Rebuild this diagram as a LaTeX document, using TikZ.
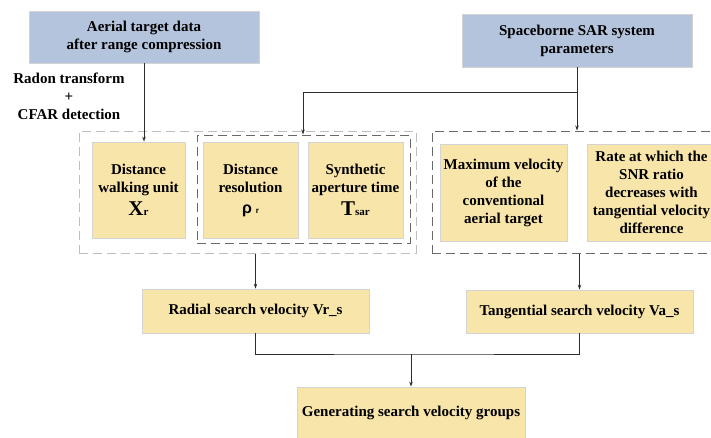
\documentclass[tikz,border=0pt]{standalone}
\usepackage{fontspec}
\setmainfont{Liberation Serif}
\newfontfamily\rhofont{Liberation Sans}
\usepackage{tikz}
\usetikzlibrary{arrows.meta}

\definecolor{bluebox}{RGB}{181,196,221}
\definecolor{yellowbox}{RGB}{248,229,170}
\definecolor{boxline}{RGB}{212,212,212}
\definecolor{lightdash}{RGB}{190,190,190}
\definecolor{darkdash}{RGB}{105,105,105}
\definecolor{linkline}{RGB}{45,45,45}

\tikzset{
  txt/.style={font=\fontsize{15}{18}\selectfont\bfseries, align=center, text=black},
  inbox/.style={txt, fill=bluebox, draw=boxline, line width=0.8pt, inner sep=0pt},
  parbox/.style={txt, fill=yellowbox, draw=boxline, line width=0.8pt, inner sep=0pt},
  grouplight/.style={draw=lightdash, line width=1pt, dash pattern=on 9pt off 5pt, inner sep=0pt},
  groupdark/.style={draw=darkdash, line width=1pt, dash pattern=on 9pt off 5pt, inner sep=0pt},
  link/.style={draw=linkline, line width=0.8pt},
}

\begin{document}
\begin{tikzpicture}[x=1pt,y=-1pt,>={Stealth[length=5pt,width=3.5pt]}]
   \useasboundingbox (0,0) rectangle (711,437);
   \clip (0,0) rectangle (711,437);

   % inputs
   \node[inbox, minimum width=230pt, minimum height=52pt] (data) at (144,37)
        {Aerial target data\\after range compression};
   \node[inbox, minimum width=230pt, minimum height=53pt] (sar) at (577,40.5)
        {Spaceborne SAR system\\parameters};
   \node[txt] (radon) at (69,96) {Radon transform\\+\\CFAR detection};

   % dashed groups
   \node[grouplight, minimum width=337pt, minimum height=122pt] (leftgrp) at (247.5,192) {};
   \node[groupdark, minimum width=213pt, minimum height=108pt] (midgrp) at (303.5,189) {};
   \node[groupdark, minimum width=288pt, minimum height=122pt] (rightgrp) at (576,192) {};

   % parameters
   \node[parbox, minimum width=93pt, minimum height=96pt] (walk) at (138.5,190)
        {Distance\\walking unit\\[5pt]{\fontsize{21}{21}\selectfont X}{\fontsize{11}{11}\selectfont r}};
   \node[parbox, minimum width=95pt, minimum height=96pt] (res) at (250.5,190)
        {Distance\\resolution\\[3pt]{\rhofont\fontsize{16}{16}\selectfont ρ} {\rhofont\fontsize{8}{8}\selectfont r}};
   \node[parbox, minimum width=95pt, minimum height=96pt] (tsar) at (355.5,190)
        {Synthetic\\aperture time\\[5pt]{\fontsize{21}{21}\selectfont T}{\fontsize{11}{11}\selectfont sar}};
   \node[parbox, minimum width=127pt, minimum height=97pt] (maxv) at (503.5,192.5)
        {Maximum velocity\\of the\\conventional\\aerial target};
   \node[parbox, minimum width=129pt, minimum height=97pt] (rate) at (651.5,192.5)
        {Rate at which the\\SNR ratio\\decreases with\\tangential velocity\\difference};

   % search velocities
   \node[parbox, minimum width=227pt, minimum height=44pt] (radial) at (255.5,311)
        {Radial search velocity Vr\_s};
   \node[parbox, minimum width=227pt, minimum height=43pt] (tang) at (579.5,311.5)
        {Tangential search velocity Va\_s};
   \node[parbox, minimum width=228pt, minimum height=52pt] (gen) at (411,413)
        {Generating search velocity groups};

   \coordinate (split) at (577,92);
   \coordinate (join) at (411,354);

   \draw[link,->] (data.south) -- (data.south |- walk.north);
   \draw[link,->] (sar.south) -- (rightgrp.north -| sar.south);
   \draw[link,->] (split) -| ([xshift=-0.5pt]midgrp.north);
   \draw[link,->] (leftgrp.south -| radial.north) -- (radial.north);
   \draw[link,->] (rightgrp.south -| tang.north) -- (tang.north);
   \draw[link] (radial.south) |- (join) -| (tang.south);
   \draw[link,->] (join) -- (gen.north);
\end{tikzpicture}
\end{document}
